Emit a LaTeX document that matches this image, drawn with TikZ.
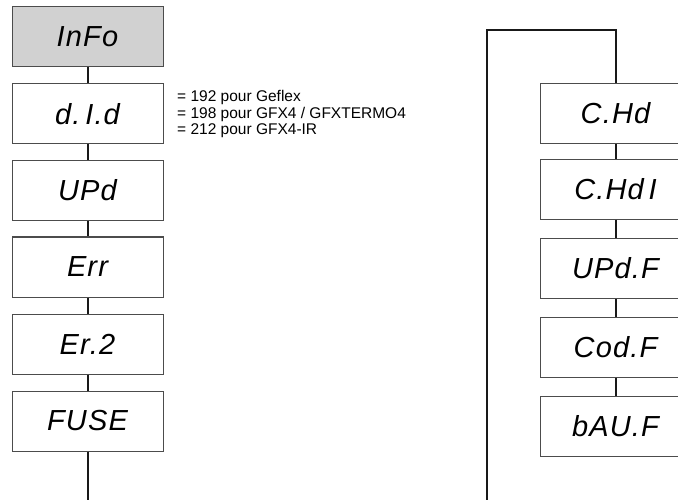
\documentclass[tikz,border=0pt]{standalone}
\usepackage{fontspec}
\setmainfont{Liberation Sans}
\newfontfamily\segfont[LetterSpace=4]{Liberation Sans}
\begin{document}
\begin{tikzpicture}[x=1pt,y=-1pt,
  disp/.style={draw=black!70, line width=1pt, minimum width=151pt, minimum height=60pt, inner sep=0pt,
    font=\segfont\itshape\fontsize{29}{30}\selectfont},
  link/.style={line width=2pt, black!90}]
\useasboundingbox (0,0) rectangle (678,500);
\clip (0,0) rectangle (678,500);
% left column
\node[disp, fill=black!18] (info) at (87.5,37) {InFo};
\node[disp] (did) at (87.5,114) {d.\,I.d};
\node[disp] (upd) at (87.5,190.5) {UPd};
\node[disp] (err) at (87.5,267) {Err};
\node[disp] (er2) at (87.5,344) {Er.2};
\node[disp] (fuse) at (87.5,421) {FUSE};
\coordinate (lend) at (87.5,500);
\draw[link] (info) -- (did);
\draw[link] (did) -- (upd);
\draw[link] (upd) -- (err);
\draw[link] (err) -- (er2);
\draw[link] (er2) -- (fuse);
\draw[link] (fuse) -- (lend);
\node[anchor=west, align=left, font=\fontsize{15.5}{16.5}\selectfont, inner sep=0pt] (note) at (177,114)
  {= 192 pour Geflex\\= 198 pour GFX4 / GFXTERMO4\\= 212 pour GFX4-IR};
% right column
\node[disp] (chd) at (615.5,113.5) {C.Hd};
\node[disp] (chd1) at (615.5,189.5) {C.Hd\,I};
\node[disp] (updf) at (615.5,268.5) {UPd.F};
\node[disp] (codf) at (615.5,347) {Cod.F};
\node[disp] (bauf) at (615.5,426) {bAU.F};
\coordinate (rstart) at (486.5,500);
\coordinate (rtop) at (486.5,30.5);
\draw[link] (rstart) -- (rtop) -| (chd.north);
\draw[link] (chd) -- (chd1);
\draw[link] (chd1) -- (updf);
\draw[link] (updf) -- (codf);
\draw[link] (codf) -- (bauf);
\end{tikzpicture}
\end{document}
